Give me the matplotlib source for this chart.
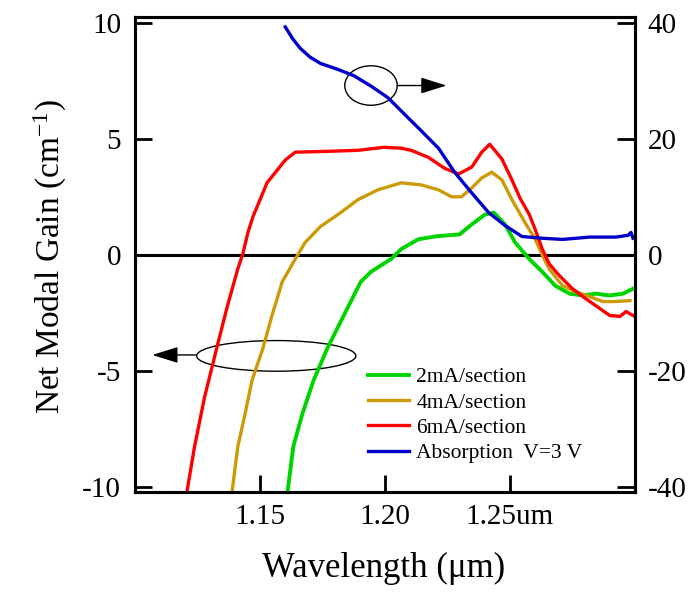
import matplotlib
matplotlib.use("Agg")
import matplotlib.pyplot as plt
from matplotlib.patches import Ellipse

plt.rcParams["font.family"] = ["Liberation Serif", "DejaVu Serif"]
plt.rcParams["mathtext.fontset"] = "custom"
plt.rcParams["mathtext.rm"] = "Liberation Serif"
plt.rcParams["mathtext.it"] = "Liberation Serif:italic"
plt.rcParams["axes.unicode_minus"] = False

# Net modal gain (left axis, cm^-1) versus wavelength (um)
wl_6mA = [1.1206, 1.1238, 1.1278, 1.1327, 1.1367, 1.1411, 1.1431, 1.1452, 1.1472,
          1.1500, 1.1528, 1.1569, 1.1601, 1.1641, 1.1782, 1.1891, 1.1996, 1.2065,
          1.2105, 1.2173, 1.2238, 1.2294, 1.2347, 1.2387, 1.2419, 1.2468, 1.2508,
          1.2540, 1.2577, 1.2601, 1.2629, 1.2657, 1.2698, 1.2750, 1.2802, 1.2859,
          1.2899, 1.2940, 1.2964, 1.2992]
gain_6mA = [-10.3, -8.26, -6.13, -4.00, -2.30, -0.60, 0.04, 0.98, 1.66,
            2.38, 3.11, 3.66, 4.09, 4.43, 4.47, 4.51, 4.64, 4.60,
            4.51, 4.21, 3.74, 3.49, 3.79, 4.43, 4.77, 4.13, 3.23,
            2.45, 1.75, 1.10, 0.26, -0.38, -0.89, -1.45, -1.87, -2.30,
            -2.60, -2.64, -2.43, -2.60]

wl_4mA = [1.1387, 1.1411, 1.1440, 1.1468, 1.1512, 1.1548, 1.1589, 1.1641, 1.1681,
          1.1742, 1.1823, 1.1891, 1.1972, 1.2065, 1.2145, 1.2214, 1.2266, 1.2306,
          1.2347, 1.2387, 1.2427, 1.2468, 1.2508, 1.2560, 1.2601, 1.2629, 1.2657,
          1.2710, 1.2762, 1.2819, 1.2871, 1.2923, 1.2980]
gain_4mA = [-10.3, -8.26, -6.85, -5.40, -4.00, -2.60, -1.15, -0.17, 0.55,
            1.23, 1.83, 2.38, 2.81, 3.11, 3.02, 2.81, 2.51, 2.51,
            2.89, 3.32, 3.57, 3.23, 2.38, 1.40, 0.68, 0.00, -0.60,
            -1.32, -1.57, -1.79, -2.00, -2.00, -1.96]

wl_2mA = [1.1609, 1.1633, 1.1669, 1.1714, 1.1770, 1.1835, 1.1903, 1.1944, 1.2024,
          1.2065, 1.2133, 1.2206, 1.2298, 1.2347, 1.2399, 1.2435, 1.2480, 1.2520,
          1.2577, 1.2629, 1.2681, 1.2738, 1.2790, 1.2843, 1.2899, 1.2952, 1.2992]
gain_2mA = [-10.3, -8.26, -6.85, -5.40, -4.00, -2.60, -1.15, -0.72, -0.17,
            0.26, 0.68, 0.81, 0.89, 1.32, 1.74, 1.83, 1.32, 0.55,
            -0.17, -0.72, -1.32, -1.66, -1.74, -1.66, -1.74, -1.66, -1.45]

# Absorption at V = 3 V (right axis)
wl_abs = [1.1601, 1.1630, 1.1661, 1.1700, 1.1742, 1.1810, 1.1875, 1.1944, 1.2012,
          1.2077, 1.2145, 1.2214, 1.2278, 1.2347, 1.2415, 1.2480, 1.2548, 1.2629,
          1.2710, 1.2819, 1.2923, 1.2972, 1.2984, 1.2992]
absorption = [39.3, 37.3, 35.6, 34.1, 33.0, 32.0, 30.9, 29.1, 27.1,
              24.3, 21.4, 18.4, 14.3, 10.7, 7.3, 5.1, 3.2, 2.9,
              2.7, 3.1, 3.1, 3.4, 3.9, 2.9]

labels = ["2mA/section", "4mA/section", "6mA/section", "Absorption  V=3 V"]
colors = ["#00d400", "#cc9a06", "#ff0000", "#0000c8"]

x_ticks = [1.15, 1.20, 1.25]
x_ticklabels = ["1.15", "1.20", "1.25um"]
left_ticks = [-10, -5, 0, 5, 10]
right_ticks = [-40, -20, 0, 20, 40]

fig = plt.figure(figsize=(6.95, 5.92), dpi=100)
ax = fig.add_axes([135 / 695, 1 - 492 / 592, 500 / 695, 475 / 592])
ax2 = ax.twinx()

ax.set_xlim(1.10, 1.30)
ax.set_ylim(-10.2, 10.25)
ax2.set_ylim(-40.8, 41.0)

ax.axhline(0, color="black", lw=2.2, zorder=1)

l2, = ax.plot(wl_2mA, gain_2mA, color=colors[0], lw=2.8, label=labels[0])
l4, = ax.plot(wl_4mA, gain_4mA, color=colors[1], lw=2.4, label=labels[1])
l6, = ax.plot(wl_6mA, gain_6mA, color=colors[2], lw=2.4, label=labels[2])
la, = ax2.plot(wl_abs, absorption, color=colors[3], lw=2.4, label=labels[3])

# Ellipses with arrows pointing to the relevant axis
ax.add_patch(Ellipse((1.1944, 7.3), 0.021, 1.70, fill=False, ec="black", lw=1.0))
ax.annotate("", xy=(1.2246, 7.3), xytext=(1.2049, 7.3),
            arrowprops=dict(arrowstyle="-|>,head_length=0.8,head_width=0.25",
                            color="black", lw=1.0, mutation_scale=20,
                            shrinkA=0, shrinkB=0))
ax.add_patch(Ellipse((1.1565, -4.34), 0.0637, 1.32, fill=False, ec="black", lw=1.0))
ax.annotate("", xy=(1.1069, -4.30), xytext=(1.1246, -4.30),
            arrowprops=dict(arrowstyle="-|>,head_length=0.8,head_width=0.25",
                            color="black", lw=1.0, mutation_scale=20,
                            shrinkA=0, shrinkB=0))

for a in (ax, ax2):
    for s in a.spines.values():
        s.set_linewidth(2.2)

ax.set_xticks(x_ticks)
ax.set_xticklabels(x_ticklabels)
ax.set_yticks(left_ticks)
ax.set_yticklabels([str(v) for v in left_ticks])
ax2.set_yticks(right_ticks)
ax2.set_yticklabels([str(v) for v in right_ticks])

ax.tick_params(axis="both", direction="in", length=12, width=2.0,
               labelsize=21, pad=10)
ax.tick_params(axis="x", pad=9)
ax2.tick_params(axis="y", direction="in", length=13, width=2.0,
                labelsize=21, pad=9)

leg = ax.legend([l2, l4, l6, la], labels, loc="upper left",
                bbox_to_anchor=(368 / 695, 1 - 367 / 592),
                bbox_transform=fig.transFigure, frameon=False,
                fontsize=15.5, handlelength=1.9, handletextpad=0.35,
                labelspacing=0.25, borderpad=0, borderaxespad=0)

fig.text(50 / 695, 1 - 257 / 592, r"Net Modal Gain (cm$^{-1}$)",
         rotation=90, ha="center", va="center", fontsize=24)
fig.text(384 / 695, 1 - 568 / 592, "Wavelength (\u03bcm)",
         ha="center", va="center", fontsize=25)

fig.savefig("out.png", dpi=100)
